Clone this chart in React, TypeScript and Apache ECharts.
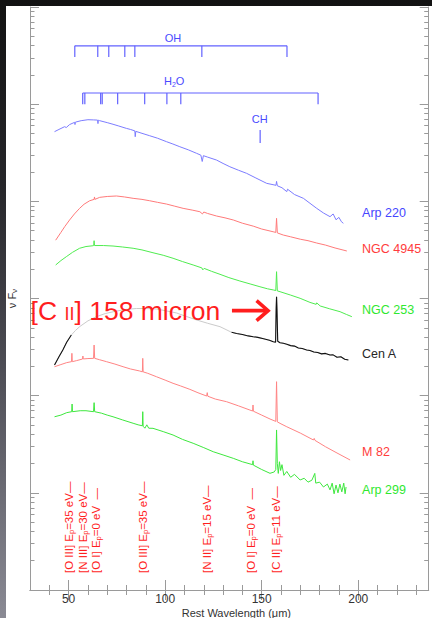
import React, { useEffect, useRef } from 'react';
import * as echarts from 'echarts';

// ---------------- axes ----------------
const X_MIN = 30;
const X_MAX = 236.5;
const X_TICK_LABELS = [50, 100, 150, 200];
const X_MINOR_TICKS = [40, 60, 70, 80, 90, 110, 120, 130, 140, 160, 170, 180, 190, 210, 220, 230];
// y axis: log10(νFν), arbitrary units, 6 decades, no labels
const Y_DECADES = [0, 1, 2, 3, 4, 5, 6];
const Y_MINOR_MULTIPLES = [2, 3, 4, 5, 6, 7, 8, 9];

// ---------------- spectra: [rest wavelength (µm), log10 νFν] ----------------
const ARP220: [number, number][] = [
  [42.7, 4.717], [45, 4.74], [47.9, 4.768], [48.8, 4.76], [50.5, 4.79], [53.1, 4.813], [53.3, 4.79], [53.5, 4.815],
  [56.5, 4.83], [60.0, 4.84], [63, 4.838], [65.0, 4.836], [65.2, 4.80], [65.4, 4.835], [66.1, 4.83], [70, 4.81],
  [73.0, 4.793], [76, 4.775], [79.9, 4.751], [82, 4.74], [84.3, 4.725], [84.5, 4.665], [84.8, 4.72], [88, 4.70],
  [92.0, 4.675], [96, 4.65], [100.7, 4.614], [104, 4.59], [107.6, 4.562], [112, 4.53], [116.3, 4.494], [118.5, 4.475],
  [119.2, 4.41], [119.8, 4.47], [122, 4.455], [126.6, 4.425], [130, 4.39], [133.5, 4.356], [138, 4.32], [142.2, 4.288],
  [147, 4.24], [152.6, 4.185], [157.4, 4.165], [157.7, 4.205], [158.1, 4.16], [160.5, 4.14], [163.0, 4.10], [163.4, 4.125],
  [167, 4.07], [171.6, 4.031], [175, 3.98], [178.5, 3.928], [182, 3.88], [185.4, 3.842], [187, 3.87], [188.5, 3.81],
  [190, 3.835], [191.3, 3.79], [192.3, 3.774],
];
const NGC4945: [number, number][] = [
  [43.3, 3.6], [46, 3.68], [48, 3.74], [50.5, 3.808], [53, 3.87], [55.7, 3.928], [58, 3.97], [60.9, 4.006], [63.2, 4.02],
  [63.4, 4.045], [63.6, 4.02], [66.1, 4.041], [70, 4.05], [74.8, 4.055], [79, 4.045], [83.4, 4.031], [88, 4.02],
  [92.0, 4.006], [96, 3.99], [100.7, 3.972], [105, 3.95], [109.3, 3.928], [114, 3.91], [118.0, 3.893], [119.3, 3.87],
  [120, 3.89], [122, 3.875], [126.6, 3.849], [131, 3.83], [135.3, 3.808], [140, 3.775], [145.6, 3.745], [150, 3.715],
  [155.9, 3.687], [157.3, 3.68], [157.7, 3.825], [158.1, 3.675], [161.2, 3.653], [165, 3.635], [170, 3.61], [174, 3.595],
  [178.5, 3.571], [183, 3.55], [188, 3.52], [194.1, 3.489],
];
const NGC253: [number, number][] = [
  [43.3, 3.345], [46, 3.39], [48.8, 3.43], [52, 3.475], [55.7, 3.517], [59, 3.535], [62.6, 3.543], [63.0, 3.545],
  [63.2, 3.595], [63.4, 3.545], [68, 3.545], [73.0, 3.54], [78, 3.53], [83.4, 3.517], [88, 3.5], [93.7, 3.471],
  [99, 3.445], [104.1, 3.414], [109, 3.38], [114.5, 3.345], [119, 3.315], [119.5, 3.295], [120.2, 3.31], [124, 3.28],
  [128.4, 3.249], [133, 3.215], [138.7, 3.18], [144, 3.15], [149.1, 3.121], [153, 3.1], [156, 3.088], [157.3, 3.082],
  [157.7, 3.276], [158.1, 3.078], [159.5, 3.07], [165, 3.035], [169.9, 3.002], [175, 2.96], [178.2, 2.94], [178.5, 2.955],
  [180.3, 2.923], [185, 2.895], [190.6, 2.864], [194, 2.835], [196.7, 2.813],
];
const CENA: [number, number][] = [
  [42.7, 2.316], [45, 2.4], [47.0, 2.47], [49, 2.55], [51.4, 2.624], [53.5, 2.67], [55.7, 2.71], [60, 2.77],
  [64.4, 2.813], [69, 2.845], [74.8, 2.871], [80, 2.888], [85.1, 2.897], [90, 2.897], [95.5, 2.892], [100, 2.875],
  [105.9, 2.851], [111, 2.815], [116.3, 2.779], [122, 2.745], [128.4, 2.71], [131, 2.685], [134.4, 2.652], [137, 2.64],
  [140, 2.63], [143, 2.615], [145.6, 2.607], [148, 2.6], [151, 2.585], [154, 2.57], [156, 2.555], [157.2, 2.55],
  [157.5, 2.9], [157.7, 3.018], [157.9, 2.9], [158.3, 2.56], [159.5, 2.545], [161.2, 2.539], [163, 2.53], [165, 2.515],
  [167, 2.51], [169, 2.49], [171, 2.485], [173.3, 2.47], [175, 2.465], [177, 2.45], [179, 2.445], [181, 2.43],
  [183, 2.435], [185.4, 2.418], [187, 2.42], [189, 2.395], [191, 2.4], [193, 2.375], [194.9, 2.367],
];
const M82: [number, number][] = [
  [42.7, 2.298], [46, 2.32], [49, 2.34], [51.5, 2.35], [51.7, 2.436], [51.9, 2.35], [54, 2.36], [57.2, 2.377],
  [57.4, 2.408], [57.6, 2.378], [60, 2.382], [62.9, 2.384], [63.2, 2.521], [63.5, 2.384], [66, 2.37], [69.6, 2.35],
  [74, 2.325], [78.2, 2.298], [82, 2.275], [86.8, 2.254], [88.2, 2.245], [88.4, 2.384], [88.6, 2.245], [91, 2.23],
  [95.5, 2.195], [100, 2.16], [104.1, 2.127], [108, 2.1], [112.8, 2.065], [117, 2.03], [121.5, 1.996], [121.8, 2.031],
  [122.1, 1.994], [126, 1.965], [131.8, 1.938], [138, 1.895], [143.9, 1.852], [145.3, 1.842], [145.5, 1.904],
  [145.7, 1.84], [150, 1.8], [154.3, 1.76], [157.3, 1.735], [157.7, 2.144], [158.1, 1.73], [160, 1.71], [163.0, 1.68],
  [170, 1.615], [176.8, 1.544], [177.2, 1.56], [177.6, 1.54], [183, 1.475], [189, 1.41], [195.8, 1.338],
];
const ARP299: [number, number][] = [
  [42.7, 1.783], [46, 1.8], [49, 1.825], [51.6, 1.835], [51.8, 1.914], [52.0, 1.835], [56, 1.845], [59, 1.845],
  [62.9, 1.835], [63.2, 1.928], [63.5, 1.835], [67, 1.82], [70, 1.8], [73.0, 1.783], [78, 1.75], [83.4, 1.716],
  [86, 1.7], [88.2, 1.69], [88.4, 1.835], [88.6, 1.685], [89.5, 1.665], [90.5, 1.7], [91.5, 1.665], [93.7, 1.664],
  [99, 1.63], [104.1, 1.595], [109, 1.55], [114.5, 1.51], [120, 1.465], [124.9, 1.423], [130, 1.39], [135.3, 1.355],
  [140, 1.32], [145.3, 1.29], [145.5, 1.33], [145.7, 1.285], [150, 1.24], [154.3, 1.201], [156.5, 1.215], [157.3, 1.24],
  [157.7, 1.647], [158.1, 1.3], [158.6, 1.2], [159.2, 1.32], [159.8, 1.23], [160.5, 1.29], [161.5, 1.18], [163, 1.22],
  [165, 1.16], [167, 1.19], [169.9, 1.132], [172, 1.15], [174, 1.11], [176, 1.13], [177.5, 1.2], [178, 1.1], [180, 1.11],
  [182, 1.06], [184, 1.09], [185.4, 1.03], [186.5, 1.1], [187.5, 0.99], [188.5, 1.08], [189.5, 1.0], [190.5, 1.09],
  [191.5, 1.01], [192.5, 1.1], [193.2, 0.99], [193.7, 1.06],
];

// galaxy names (right-hand labels)
const SPECTRUM_NAMES = ['Arp 220', 'NGC 4945', 'NGC 253', 'Cen A', 'M 82', 'Arp 299'];
const SPECTRA = [ARP220, NGC4945, NGC253, CENA, M82, ARP299];
const NAME_LABEL_X = 202;
const NAME_LABEL_Y = [3.877, 3.509, 2.882, 2.429, 1.423, 1.029];
// Cen A is drawn black outside this grey stretch
const CENA_GREY_RANGE = [51.5, 134.4];

// molecular absorption line markers (µm)
const OH_LINES = [53.2, 65.1, 70.8, 79.1, 84.3, 119.0, 163.1];
const H2O_LINES = [57.3, 58.4, 66.6, 67.4, 75.4, 89.4, 100.9, 108.1, 179.2];
const CH_LINES = [149.2];

// fine-structure emission lines (µm) and their labels
const LINE_IONS = ['[O III]', '[N III]', '[O I]', '[O III]', '[N II]', '[O I]', '[C II]'];
const LINE_EP = ['35', '30', '0', '35', '15', '0', '11'];
const LINE_WAVELENGTHS = [51.8, 57.3, 63.2, 88.4, 121.9, 145.5, 157.7];

// ---------------- styling ----------------
const FONT = "'Liberation Sans', Arial, Helvetica, sans-serif";
const AXIS_COLOR = '#9a9a9a';
const LINE_COLORS = ['#7c7cff', '#ff7a7a', '#4fec4f', '#111111', '#ff8484', '#3ee83e'];
const LABEL_COLORS = ['#4646ff', '#ff3c3c', '#2fe82f', '#262626', '#ff3c3c', '#2fe82f'];
const MARKER_BLUE = '#6262ff';
const RED = '#ff1e1e';

const MOLECULES = [
  { text: '{n|OH}', lines: OH_LINES, barY: 5.6, tickBottom: 5.485, labelX: 104.1, labelY: 5.686 },
  { text: '{n|H}{s|2}{n|O}', lines: H2O_LINES, barY: 5.115, tickBottom: 5.0, labelX: 104.7, labelY: 5.238 },
  { text: '{n|CH}', lines: CH_LINES, barY: 4.734, tickBottom: 4.6, labelX: 149.0, labelY: 4.852 },
];
const LINE_LABEL_X = [50.3, 57.2, 64.3, 88.3, 121.7, 144.6, 157.6];
const LINE_LABEL_BASE = 0.175;
const LINE_LABEL_DASH = ['—', '—', '  —', '—', '—', '  —', '—'];

function minorY() {
  const out: number[] = [];
  for (let d = 0; d < 6; d++) for (const k of Y_MINOR_MULTIPLES) out.push(d + Math.log10(k));
  return out;
}

function xAxisDef(position: 'top' | 'bottom', major: boolean, withLabels: boolean) {
  return {
    type: 'value', min: X_MIN, max: X_MAX, position,
    axisLine: { show: !major, lineStyle: { color: AXIS_COLOR, width: 1 } },
    axisTick: { show: true, inside: true, length: major ? 10 : 5, lineStyle: { color: AXIS_COLOR }, customValues: major ? X_TICK_LABELS : X_MINOR_TICKS },
    axisLabel: withLabels
      ? { show: true, customValues: X_TICK_LABELS, margin: 3, fontFamily: FONT, fontSize: 12, color: '#333', lineHeight: 12 }
      : { show: false },
    splitLine: { show: false },
    ...(withLabels
      ? {
          name: 'Rest Wavelength (μm)', nameLocation: 'middle', nameGap: 17, nameMoveOverlap: false,
          nameTextStyle: { fontFamily: FONT, fontSize: 11, color: '#333', padding: [0, 0, 0, 14], lineHeight: 11 },
        }
      : {}),
  };
}

function yAxisDef(position: 'left' | 'right', major: boolean, withName: boolean) {
  return {
    type: 'value', min: 0, max: 6, position,
    axisLine: { show: !major, lineStyle: { color: AXIS_COLOR, width: 1 } },
    axisTick: { show: true, inside: true, length: major ? 9 : 4.5, lineStyle: { color: AXIS_COLOR }, customValues: major ? Y_DECADES : minorY() },
    axisLabel: { show: false },
    splitLine: { show: false },
    ...(withName
      ? {
          name: '{n|ν F}{s|ν}', nameLocation: 'middle', nameRotate: 90, nameGap: 12,
          nameTextStyle: {
            rich: {
              n: { fontFamily: FONT, fontSize: 11, color: '#333', lineHeight: 13 },
              s: { fontFamily: FONT, fontSize: 8, color: '#333', lineHeight: 13, verticalAlign: 'bottom' },
            },
          },
        }
      : {}),
  };
}

function buildOption() {
  const lineSeries = SPECTRA.map((data, i) => ({
    type: 'line', name: SPECTRUM_NAMES[i], data,
    symbol: 'none', showSymbol: false, silent: true, z: 2,
    lineStyle: { color: i === 3 ? '#cbcbcb' : LINE_COLORS[i], width: 1 },
    emphasis: { disabled: true },
  }));
  const cenABlack = {
    type: 'line', name: 'Cen A (black)',
    data: CENA.map(([x, y]) => (x <= CENA_GREY_RANGE[0] || x >= CENA_GREY_RANGE[1] ? [x, y] : [x, '-'])),
    symbol: 'none', showSymbol: false, silent: true, z: 3,
    lineStyle: { color: LINE_COLORS[3], width: 1.1 },
    emphasis: { disabled: true },
  };

  const nameLabels = {
    type: 'custom', coordinateSystem: 'cartesian2d', silent: true, z: 5,
    data: SPECTRUM_NAMES.map((_, i) => [NAME_LABEL_X, NAME_LABEL_Y[i]]),
    renderItem: (params: any, api: any) => {
      const i = params.dataIndex;
      const p = api.coord([api.value(0), api.value(1)]);
      return {
        type: 'text', x: p[0], y: p[1],
        style: { text: SPECTRUM_NAMES[i], fill: LABEL_COLORS[i], fontFamily: FONT, fontSize: 12.5, align: 'left', verticalAlign: 'middle' },
      };
    },
  };

  const molecules = {
    type: 'custom', coordinateSystem: 'cartesian2d', silent: true, z: 5,
    data: MOLECULES.map((m) => [m.labelX, m.labelY]),
    renderItem: (params: any, api: any) => {
      const m = MOLECULES[params.dataIndex];
      const style = { stroke: MARKER_BLUE, lineWidth: 1.2 };
      const children: any[] = [];
      if (m.lines.length > 1) {
        const a = api.coord([m.lines[0], m.barY]);
        const b = api.coord([m.lines[m.lines.length - 1], m.barY]);
        children.push({ type: 'line', shape: { x1: a[0], y1: a[1], x2: b[0], y2: b[1] }, style });
      }
      m.lines.forEach((wl) => {
        const a = api.coord([wl, m.barY]);
        const b = api.coord([wl, m.tickBottom]);
        children.push({ type: 'line', shape: { x1: a[0], y1: a[1], x2: b[0], y2: b[1] }, style });
      });
      const t = api.coord([m.labelX, m.labelY]);
      children.push({
        type: 'text', x: t[0], y: t[1],
        style: {
          text: m.text, align: 'center', verticalAlign: 'middle',
          rich: {
            n: { fontFamily: FONT, fontSize: 11, fill: '#4a4aff', lineHeight: 13 },
            s: { fontFamily: FONT, fontSize: 7, fill: '#4a4aff', lineHeight: 13, verticalAlign: 'bottom' },
          },
        },
      });
      return { type: 'group', children };
    },
  };

  const lineLabels = {
    type: 'custom', coordinateSystem: 'cartesian2d', silent: true, z: 5,
    data: LINE_WAVELENGTHS.map((_, i) => [LINE_LABEL_X[i], LINE_LABEL_BASE]),
    renderItem: (params: any, api: any) => {
      const i = params.dataIndex;
      const p = api.coord([api.value(0), api.value(1)]);
      return {
        type: 'text', x: p[0], y: p[1], rotation: Math.PI / 2,
        style: {
          text: `{n|${LINE_IONS[i]} E}{s|p}{n|=${LINE_EP[i]} eV${LINE_LABEL_DASH[i]}}`,
          align: 'left', verticalAlign: 'middle',
          rich: {
            n: { fontFamily: FONT, fontSize: 11.5, fill: RED, lineHeight: 13 },
            s: { fontFamily: FONT, fontSize: 7.5, fill: RED, lineHeight: 13, verticalAlign: 'bottom' },
          },
        },
      };
    },
  };

  // [C II] callout: text anchor, arrow tail and tip share the same log level
  const CALLOUT = { textX: 30.3, y: 2.875, tailX: 134.6, tipX: 153.3 };
  const callout = {
    type: 'custom', coordinateSystem: 'cartesian2d', silent: true, z: 6,
    data: [[CALLOUT.textX, CALLOUT.y]],
    renderItem: (params: any, api: any) => {
      const t = api.coord([CALLOUT.textX, CALLOUT.y]);
      const a = api.coord([CALLOUT.tailX, CALLOUT.y]);
      const b = api.coord([CALLOUT.tipX, CALLOUT.y]);
      const st = { stroke: RED, lineWidth: 3.6, lineCap: 'butt', lineJoin: 'miter' };
      return {
        type: 'group',
        children: [
          {
            type: 'text', x: t[0], y: t[1],
            style: {
              text: '{b|[C }{s|II}{b|] 158 micron}', align: 'left', verticalAlign: 'middle',
              rich: {
                b: { fontFamily: FONT, fontSize: 26.5, fill: RED, lineHeight: 30 },
                s: { fontFamily: FONT, fontSize: 18, fill: RED, lineHeight: 30, verticalAlign: 'bottom', padding: [0, 0, 3, 0] },
              },
            },
          },
          { type: 'line', shape: { x1: a[0], y1: a[1], x2: b[0] - 1.5, y2: b[1] }, style: st },
          { type: 'polyline', shape: { points: [[b[0] - 11.5, b[1] - 10], [b[0], b[1]], [b[0] - 11.5, b[1] + 10]] }, style: { ...st, fill: 'none' } },
        ],
      };
    },
  };

  return {
    animation: false,
    backgroundColor: '#ffffff',
    grid: { left: 24, right: 3.3, top: 1, bottom: 28, containLabel: false, outerBoundsMode: 'none' },
    xAxis: [
      xAxisDef('bottom', false, true),
      xAxisDef('bottom', true, false),
      xAxisDef('top', false, false),
      xAxisDef('top', true, false),
    ],
    yAxis: [
      yAxisDef('left', false, true),
      yAxisDef('left', true, false),
      yAxisDef('right', false, false),
      yAxisDef('right', true, false),
    ],
    series: [...lineSeries, cenABlack, nameLabels, molecules, lineLabels, callout],
  };
}

export default function App() {
  const ref = useRef<HTMLDivElement>(null);
  useEffect(() => {
    if (!ref.current) return;
    const chart = echarts.init(ref.current, undefined, { renderer: 'svg' });
    chart.setOption(buildOption() as any);
    return () => chart.dispose();
  }, []);
  return (
    <div
      style={{
        position: 'fixed', left: 0, top: 0, width: 432, height: 618, overflow: 'hidden',
        background: 'linear-gradient(180deg, #121212 0%, #26262a 30%, #4e4e56 60%, #8a8a94 100%)',
      }}
    >
      <div ref={ref} style={{ position: 'absolute', left: 6, top: 6, width: 426, height: 612, background: '#fff' }} />
    </div>
  );
}
